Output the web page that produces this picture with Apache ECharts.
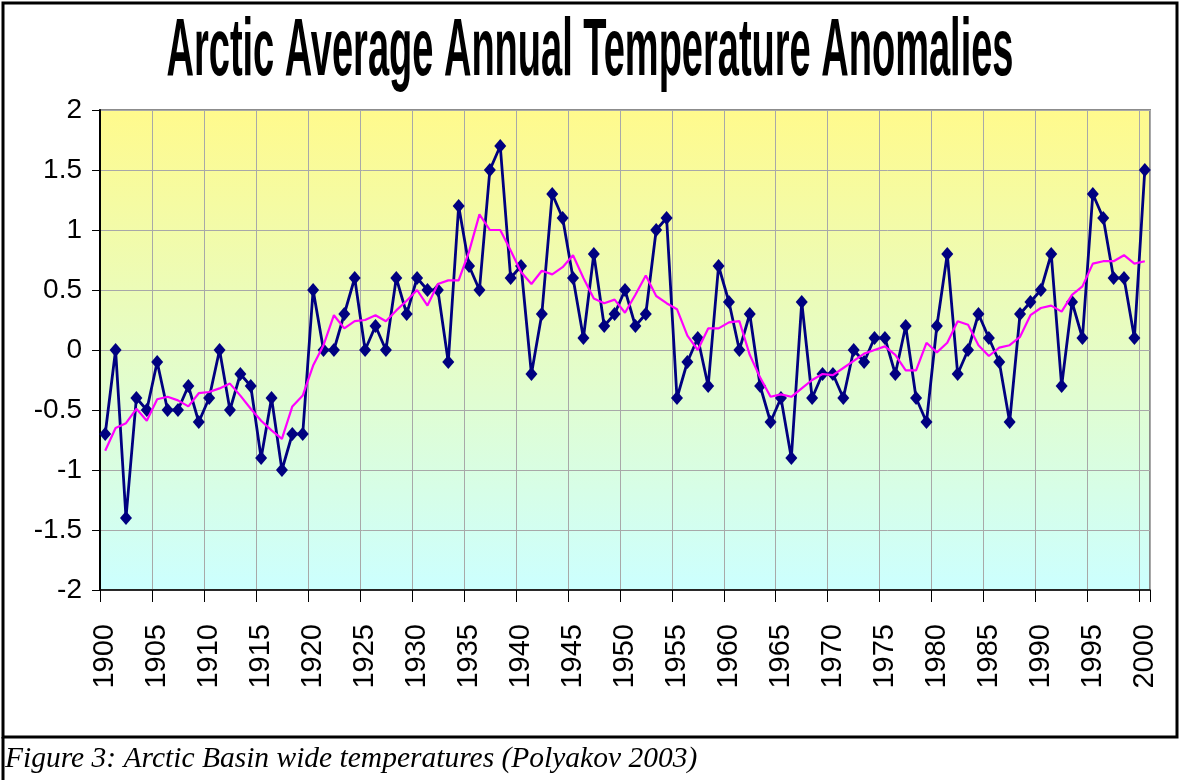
<!DOCTYPE html>
<html><head><meta charset="utf-8">
<script src="https://cdn.jsdelivr.net/npm/echarts@6/dist/echarts.min.js"></script>
<style>html,body{margin:0;padding:0;background:#fff}#c{width:1180px;height:780px}</style>
</head><body><div id="c"></div>
<script>
const years = ['1900','1901','1902','1903','1904','1905','1906','1907','1908','1909',
'1910','1911','1912','1913','1914','1915','1916','1917','1918','1919',
'1920','1921','1922','1923','1924','1925','1926','1927','1928','1929',
'1930','1931','1932','1933','1934','1935','1936','1937','1938','1939',
'1940','1941','1942','1943','1944','1945','1946','1947','1948','1949',
'1950','1951','1952','1953','1954','1955','1956','1957','1958','1959',
'1960','1961','1962','1963','1964','1965','1966','1967','1968','1969',
'1970','1971','1972','1973','1974','1975','1976','1977','1978','1979',
'1980','1981','1982','1983','1984','1985','1986','1987','1988','1989',
'1990','1991','1992','1993','1994','1995','1996','1997','1998','1999','2000'];

const anomalies = [-0.7,0.0,-1.4,-0.4,-0.5,-0.1,-0.5,-0.5,-0.3,-0.6,
-0.4,0.0,-0.5,-0.2,-0.3,-0.9,-0.4,-1.0,-0.7,-0.7,
0.5,0.0,0.0,0.3,0.6,0.0,0.2,0.0,0.6,0.3,
0.6,0.5,0.5,-0.1,1.2,0.7,0.5,1.5,1.7,0.6,
0.7,-0.2,0.3,1.3,1.1,0.6,0.1,0.8,0.2,0.3,
0.5,0.2,0.3,1.0,1.1,-0.4,-0.1,0.1,-0.3,0.7,
0.4,0.0,0.3,-0.3,-0.6,-0.4,-0.9,0.4,-0.4,-0.2,
-0.2,-0.4,0.0,-0.1,0.1,0.1,-0.2,0.2,-0.4,-0.6,
0.2,0.8,-0.2,0.0,0.3,0.1,-0.1,-0.6,0.3,0.4,
0.5,0.8,-0.3,0.4,0.1,1.3,1.1,0.6,0.6,0.1,1.5];

const runningMean = [-0.84,-0.65,-0.61,-0.49,-0.59,-0.41,-0.39,-0.42,-0.47,-0.36,
-0.35,-0.32,-0.28,-0.38,-0.49,-0.59,-0.67,-0.74,-0.47,-0.38,
-0.13,0.04,0.29,0.18,0.24,0.25,0.29,0.24,0.33,0.41,
0.5,0.37,0.55,0.58,0.58,0.82,1.13,1.0,1.0,0.83,
0.65,0.55,0.66,0.63,0.69,0.79,0.6,0.43,0.39,0.42,
0.31,0.46,0.62,0.45,0.39,0.34,0.12,0.0,0.18,0.18,
0.23,0.24,-0.04,-0.23,-0.39,-0.37,-0.39,-0.32,-0.25,-0.2,
-0.21,-0.15,-0.09,-0.03,0.0,0.03,-0.04,-0.17,-0.17,0.06,
-0.02,0.06,0.24,0.21,0.04,-0.05,0.02,0.04,0.11,0.29,
0.35,0.37,0.32,0.46,0.53,0.72,0.74,0.74,0.79,0.72,0.74];

const titleText = 'Arctic Average Annual Temperature Anomalies';
const captionText = 'Figure 3: Arctic Basin wide temperatures (Polyakov 2003)';

const ctx = document.createElement('canvas').getContext('2d');
ctx.font = 'bold 82px "Liberation Sans"';
const titleW = ctx.measureText(titleText).width;
const titleScale = 847 / titleW;

const chart = echarts.init(document.getElementById('c'), null, {renderer: 'canvas'});
chart.setOption({
  animation: false,
  backgroundColor: '#ffffff',
  grid: {
    left: 100, right: 30, top: 110, bottom: 190, show: true,
    backgroundColor: new echarts.graphic.LinearGradient(0, 0, 0, 1, [
      {offset: 0, color: '#FFFA8C'}, {offset: 1, color: '#CCFFFF'}]),
    borderColor: '#8C8C8C', borderWidth: 2
  },
  xAxis: {
    type: 'category', data: years, boundaryGap: true,
    axisLine: {show: true, onZero: false, lineStyle: {color: '#000', width: 1.5}},
    axisTick: {show: true, interval: 4, length: 12, lineStyle: {color: '#000', width: 1}},
    axisLabel: {interval: 4, rotate: 90, margin: 34, fontSize: 29, color: '#000',
      fontFamily: '"Liberation Sans", Arial, sans-serif'},
    splitLine: {show: true, interval: 4, lineStyle: {color: '#A8A8A8', width: 1}}
  },
  yAxis: {
    type: 'value', min: -2, max: 2, interval: 0.5,
    axisLine: {show: true, lineStyle: {color: '#000', width: 2}},
    axisTick: {show: true, length: 8, lineStyle: {color: '#000', width: 1}},
    axisLabel: {fontSize: 28, margin: 18, color: '#000',
      fontFamily: '"Liberation Sans", Arial, sans-serif'},
    splitLine: {show: true, lineStyle: {color: '#A8A8A8', width: 1}}
  },
  series: [
    {
      name: 'Annual anomaly', type: 'line', data: anomalies,
      symbol: 'diamond', symbolSize: [12, 14], showAllSymbol: true,
      itemStyle: {color: '#000080'},
      lineStyle: {color: '#000080', width: 2.8}, z: 2
    },
    {
      name: 'Running mean', type: 'line', data: runningMean,
      symbol: 'none', lineStyle: {color: '#FF00FF', width: 2.2}, z: 3
    }
  ],
  graphic: [
    {type: 'text', x: 590, y: 11, scaleX: titleScale, scaleY: 1,
     style: {text: titleText, textAlign: 'center', textVerticalAlign: 'top',
       font: 'bold 82px "Liberation Sans", Arial, sans-serif', fill: '#000'}},
    {type: 'text', x: 5, y: 774,
     style: {text: captionText, textAlign: 'left', textVerticalAlign: 'bottom',
       font: 'italic 29.5px "Liberation Serif", "Times New Roman", serif', fill: '#000'}},
    {type: 'rect', shape: {x: 3, y: 3, width: 1174, height: 734},
     style: {fill: 'none', stroke: '#000', lineWidth: 3}},
    {type: 'line', shape: {x1: 3, y1: 737, x2: 3, y2: 780},
     style: {stroke: '#000', lineWidth: 3}}
  ]
});
</script></body></html>
